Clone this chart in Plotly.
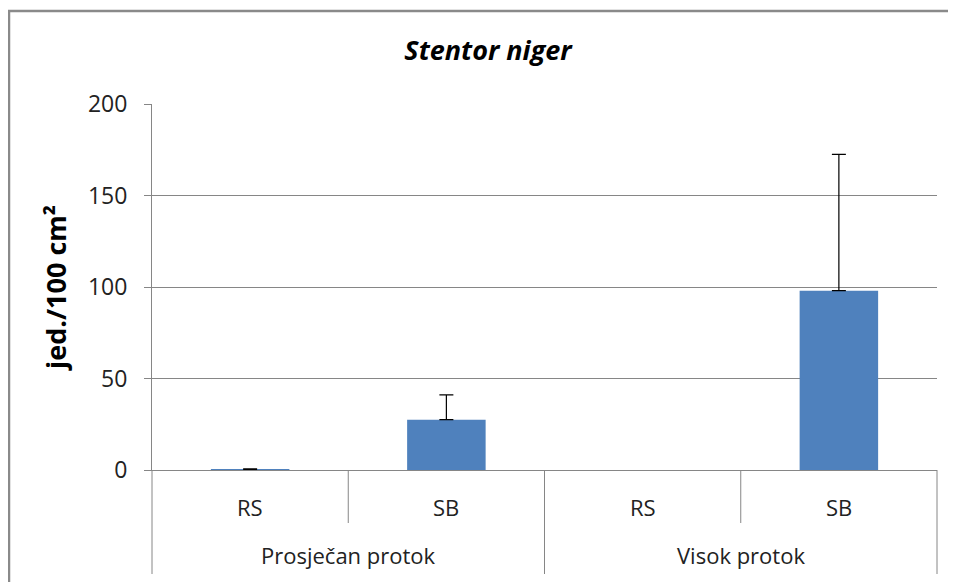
import plotly.graph_objects as go

groups = ["Prosječan protok", "Prosječan protok", "Visok protok", "Visok protok"]
sites = ["RS", "SB", "RS", "SB"]
values = [0.3, 27.5, None, 98]
err_plus = [0.3, 13.5, 0, 74.5]
err_minus = [0, 0, 0, 0]

title = "<b><i>Stentor niger</i></b>"
y_title = "<b>jed./100 cm²</b>"
y_ticks = [0, 50, 100, 150, 200]

FONT = "Open Sans"
GRID = "#868686"
TXT = "#222222"

# plot area geometry (figure px)
L, T, PW, PH = 144, 96, 785, 366

fig = go.Figure()
fig.add_trace(go.Bar(
    x=[groups, sites],
    y=values,
    marker=dict(color="#4F81BD", line=dict(width=0)),
    width=0.4,
    error_y=dict(type="data", symmetric=False, array=err_plus, arrayminus=err_minus,
                 color="black", thickness=1.2, width=7),
))

fig.update_layout(
    width=956, height=582,
    margin=dict(l=L, r=956 - L - PW, t=T, b=582 - T - PH),
    paper_bgcolor="white", plot_bgcolor="white",
    showlegend=False,
    font=dict(family=FONT, color=TXT),
    title=dict(text=title, x=480 / 956, xanchor="center", y=1 - 43 / 582, yanchor="middle",
               font=dict(size=27, family=FONT, color="black")),
)
fig.update_yaxes(
    range=[0, 200], tickvals=y_ticks, showgrid=True, gridcolor=GRID, gridwidth=1,
    showline=True, linecolor=GRID, linewidth=1, ticks="outside", ticklen=7,
    tickcolor=GRID, ticklabelstandoff=12, tickfont=dict(size=23, family=FONT, color=TXT),
    title=dict(text=y_title, font=dict(size=27, family=FONT, color="black"), standoff=13),
    zeroline=False,
)
fig.update_xaxes(
    type="multicategory", showline=True, linecolor=GRID, linewidth=1,
    showdividers=False, showticklabels=False, ticks="",
)

# category labels (level 1 and level 2)
n = len(sites)
for i, s in enumerate(sites):
    fig.add_annotation(text=s, xref="paper", yref="paper", x=(i + 0.5) / n, y=-37 / PH,
                       xanchor="center", yanchor="middle", showarrow=False,
                       font=dict(size=22, family=FONT, color=TXT))
uniq = list(dict.fromkeys(groups))
for g in uniq:
    idx = [i for i, gg in enumerate(groups) if gg == g]
    xc = (min(idx) + max(idx) + 1) / 2 / n
    fig.add_annotation(text=g, xref="paper", yref="paper", x=xc, y=-85 / PH,
                       xanchor="center", yanchor="middle", showarrow=False,
                       font=dict(size=22, family=FONT, color=TXT))

# dividers
for i in range(n + 1):
    boundary = (i == 0 or i == n or groups[i - 1] != groups[i])
    depth = 104 if boundary else 53
    fig.add_shape(type="line", xref="paper", yref="paper", x0=i / n, x1=i / n, y0=0, y1=-depth / PH,
                  line=dict(color=GRID, width=1))

# outer chart border
fig.add_shape(type="rect", xref="paper", yref="paper",
              x0=(1 - L) / PW, x1=1.1, y0=-0.4, y1=(T + PH - 3) / PH,
              line=dict(color="#8a8a8a", width=2.5))

fig.write_html("out.html")
